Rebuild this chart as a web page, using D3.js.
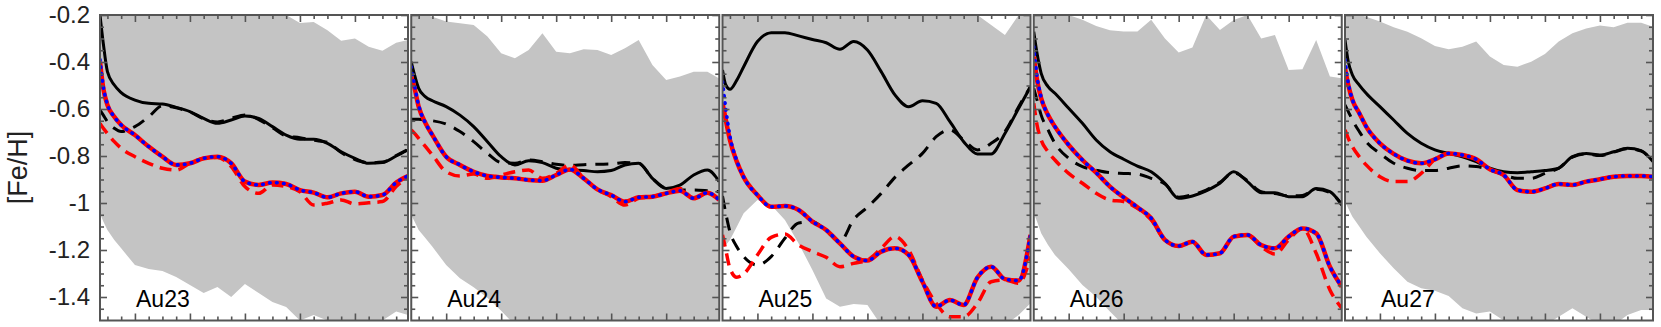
<!DOCTYPE html>
<html>
<head>
<meta charset="utf-8">
<script src="https://cdn.jsdelivr.net/npm/d3@7"></script>
<style>
  body { margin: 0; background: #fff; }
  svg { display: block; font-family: "Liberation Sans", Arial, Helvetica, sans-serif; }
</style>
</head>
<body>
<div id="chart"></div>
<script>
// halos, one panel each
var halos = ["Au23", "Au24", "Au25", "Au26", "Au27"];

// common x sampling of every curve (axis has no labels)
var xGrid = [-1.27, -1.15, -1, -0.75, -0.5, 0, 0.5, 1, 1.5, 2, 2.5, 3, 3.5, 4, 4.5, 5, 5.5, 6, 6.5, 7, 7.5, 8, 8.5, 9, 9.5, 9.93];

// tick positions / labels
var yMajor = [-1.4, -1.2, -1, -0.8, -0.6, -0.4, -0.2];
var yLabels = ["-1.4", "-1.2", "-1", "-0.8", "-0.6", "-0.4", "-0.2"];
var yMinor = [-1.45, -1.35, -1.3, -1.25, -1.15, -1.1, -1.05, -0.95, -0.9, -0.85, -0.75, -0.7, -0.65, -0.55, -0.5, -0.45, -0.35, -0.3, -0.25];
var xMajor = [0, 2, 4, 6, 8];
var xMinor = [-1, -0.5, 0.5, 1, 1.5, 2.5, 3, 3.5, 4.5, 5, 5.5, 6.5, 7, 7.5, 8.5, 9, 9.5];

// grey band, upper and lower edge
var bandHigh = [
  [-0.2,-0.2,-0.2,-0.2,-0.2,-0.2,-0.2,-0.2,-0.2,-0.2,-0.2,-0.2,-0.2,-0.2,-0.2,-0.2,-0.2,-0.234,-0.23,-0.265,-0.31,-0.3,-0.335,-0.352,-0.318,-0.306],
  [-0.2,-0.2,-0.2,-0.2,-0.207,-0.228,-0.235,-0.243,-0.292,-0.363,-0.384,-0.349,-0.278,-0.356,-0.363,-0.346,-0.349,-0.37,-0.342,-0.306,-0.413,-0.477,-0.462,-0.441,-0.441,-0.47],
  [-0.2,-0.2,-0.2,-0.2,-0.2,-0.2,-0.2,-0.2,-0.2,-0.2,-0.2,-0.2,-0.2,-0.2,-0.2,-0.2,-0.2,-0.2,-0.2,-0.2,-0.2,-0.2,-0.243,-0.285,-0.2,-0.2],
  [-0.2,-0.2,-0.2,-0.2,-0.2,-0.2,-0.22,-0.247,-0.265,-0.27,-0.27,-0.22,-0.3,-0.36,-0.338,-0.2,-0.264,-0.221,-0.2,-0.3,-0.285,-0.434,-0.431,-0.306,-0.462,-0.469],
  [-0.2,-0.2,-0.2,-0.2,-0.207,-0.228,-0.252,-0.271,-0.299,-0.332,-0.346,-0.335,-0.313,-0.377,-0.413,-0.42,-0.399,-0.366,-0.313,-0.278,-0.257,-0.245,-0.252,-0.233,-0.233,-0.25]
];
var bandLow = [
  [-1.044,-1.079,-1.115,-1.157,-1.193,-1.264,-1.281,-1.289,-1.315,-1.349,-1.383,-1.357,-1.4,-1.345,-1.383,-1.421,-1.443,-1.5,-1.477,-1.5,-1.52,-1.52,-1.52,-1.5,-1.462,-1.477],
  [-1.051,-1.079,-1.115,-1.15,-1.186,-1.264,-1.32,-1.359,-1.403,-1.458,-1.52,-1.52,-1.52,-1.52,-1.52,-1.52,-1.52,-1.52,-1.52,-1.52,-1.52,-1.52,-1.52,-1.52,-1.52,-1.52],
  [-1.179,-1.179,-1.157,-1.101,-1.044,-0.987,-1.009,-1.072,-1.172,-1.285,-1.406,-1.441,-1.43,-1.434,-1.52,-1.52,-1.52,-1.52,-1.52,-1.52,-1.52,-1.52,-1.52,-1.52,-1.477,-1.427],
  [-1.044,-1.079,-1.129,-1.179,-1.221,-1.282,-1.349,-1.399,-1.462,-1.52,-1.52,-1.52,-1.52,-1.52,-1.52,-1.52,-1.52,-1.52,-1.52,-1.52,-1.52,-1.52,-1.52,-1.52,-1.52,-1.52],
  [-0.994,-1.023,-1.058,-1.1,-1.143,-1.214,-1.278,-1.335,-1.363,-1.373,-1.396,-1.448,-1.47,-1.462,-1.5,-1.52,-1.52,-1.52,-1.484,-1.448,-1.484,-1.52,-1.52,-1.477,-1.455,-1.455]
];

// black solid
var blackSolid = [
  [-0.2,-0.321,-0.441,-0.498,-0.53,-0.562,-0.576,-0.579,-0.593,-0.611,-0.64,-0.661,-0.647,-0.63,-0.64,-0.675,-0.711,-0.729,-0.729,-0.746,-0.782,-0.81,-0.831,-0.828,-0.8,-0.774],
  [-0.399,-0.455,-0.512,-0.548,-0.565,-0.59,-0.626,-0.675,-0.739,-0.803,-0.838,-0.82,-0.828,-0.852,-0.86,-0.862,-0.867,-0.862,-0.838,-0.831,-0.895,-0.938,-0.924,-0.881,-0.86,-0.909],
  [-0.434,-0.498,-0.516,-0.477,-0.42,-0.313,-0.275,-0.275,-0.289,-0.304,-0.318,-0.346,-0.313,-0.349,-0.441,-0.54,-0.59,-0.565,-0.576,-0.654,-0.739,-0.791,-0.791,-0.704,-0.597,-0.505],
  [-0.271,-0.363,-0.448,-0.505,-0.533,-0.597,-0.661,-0.732,-0.782,-0.814,-0.843,-0.867,-0.916,-0.98,-0.97,-0.948,-0.916,-0.867,-0.909,-0.956,-0.956,-0.973,-0.973,-0.938,-0.952,-1.009],
  [-0.306,-0.399,-0.455,-0.498,-0.533,-0.59,-0.647,-0.704,-0.746,-0.774,-0.789,-0.803,-0.824,-0.852,-0.867,-0.871,-0.867,-0.862,-0.852,-0.803,-0.789,-0.796,-0.782,-0.767,-0.777,-0.824]
];

// black dashed
var blackDashed = [
  [-0.604,-0.626,-0.654,-0.682,-0.696,-0.675,-0.633,-0.587,-0.595,-0.613,-0.642,-0.655,-0.64,-0.625,-0.645,-0.68,-0.715,-0.722,-0.733,-0.742,-0.785,-0.815,-0.829,-0.826,-0.798,-0.772],
  [-0.644,-0.644,-0.644,-0.647,-0.65,-0.664,-0.696,-0.739,-0.789,-0.828,-0.831,-0.817,-0.824,-0.835,-0.84,-0.837,-0.835,-0.834,-0.828,-0.831,-0.895,-0.938,-0.945,-0.945,-0.948,-0.952],
  [-0.97,-1.044,-1.122,-1.186,-1.228,-1.264,-1.228,-1.15,-1.085,-1.08,-1.118,-1.165,-1.07,-1.018,-0.959,-0.891,-0.838,-0.789,-0.718,-0.689,-0.732,-0.774,-0.746,-0.696,-0.59,-0.505],
  [-0.512,-0.562,-0.626,-0.689,-0.746,-0.81,-0.845,-0.86,-0.871,-0.874,-0.877,-0.895,-0.919,-0.975,-0.965,-0.945,-0.912,-0.872,-0.905,-0.952,-0.96,-0.97,-0.968,-0.942,-0.956,-1.005],
  [-0.583,-0.611,-0.647,-0.696,-0.739,-0.789,-0.831,-0.852,-0.862,-0.862,-0.852,-0.842,-0.845,-0.859,-0.88,-0.895,-0.895,-0.874,-0.852,-0.805,-0.791,-0.798,-0.784,-0.769,-0.779,-0.826]
];

// red solid
var redSolid = [
  [-0.399,-0.512,-0.583,-0.633,-0.668,-0.711,-0.76,-0.803,-0.838,-0.831,-0.81,-0.803,-0.831,-0.909,-0.923,-0.913,-0.919,-0.945,-0.956,-0.976,-0.959,-0.952,-0.973,-0.966,-0.913,-0.885],
  [-0.462,-0.512,-0.59,-0.661,-0.711,-0.803,-0.838,-0.867,-0.885,-0.891,-0.895,-0.902,-0.905,-0.881,-0.857,-0.895,-0.942,-0.966,-0.994,-0.976,-0.973,-0.959,-0.948,-0.98,-0.956,-0.987],
  [-0.576,-0.647,-0.732,-0.824,-0.89,-0.966,-1.016,-1.013,-1.03,-1.079,-1.115,-1.172,-1.228,-1.245,-1.207,-1.193,-1.221,-1.335,-1.441,-1.413,-1.434,-1.317,-1.271,-1.324,-1.33,-1.136],
  [-0.377,-0.477,-0.555,-0.626,-0.675,-0.753,-0.817,-0.871,-0.93,-0.976,-1.018,-1.065,-1.157,-1.183,-1.165,-1.221,-1.214,-1.143,-1.136,-1.179,-1.193,-1.143,-1.108,-1.129,-1.271,-1.356],
  [-0.427,-0.498,-0.562,-0.618,-0.675,-0.746,-0.791,-0.82,-0.831,-0.814,-0.789,-0.796,-0.814,-0.857,-0.881,-0.945,-0.952,-0.938,-0.919,-0.923,-0.909,-0.899,-0.888,-0.885,-0.885,-0.888]
];

// red dashed
var redDashed = [
  [-0.661,-0.682,-0.704,-0.739,-0.767,-0.803,-0.831,-0.852,-0.86,-0.831,-0.81,-0.806,-0.845,-0.93,-0.959,-0.923,-0.93,-0.952,-1.009,-1.001,-0.987,-1.004,-0.999,-0.994,-0.93,-0.888],
  [-0.689,-0.704,-0.725,-0.76,-0.796,-0.867,-0.885,-0.877,-0.895,-0.881,-0.867,-0.86,-0.895,-0.874,-0.838,-0.895,-0.942,-0.973,-1.009,-0.98,-0.973,-0.956,-0.938,-0.98,-0.956,-0.987],
  [-1.136,-1.2,-1.278,-1.316,-1.302,-1.221,-1.146,-1.132,-1.179,-1.207,-1.231,-1.271,-1.257,-1.243,-1.193,-1.143,-1.2,-1.328,-1.427,-1.484,-1.484,-1.427,-1.335,-1.328,-1.342,-1.228],
  [-0.576,-0.668,-0.732,-0.782,-0.817,-0.874,-0.916,-0.959,-0.987,-0.994,-1.023,-1.072,-1.157,-1.183,-1.165,-1.221,-1.214,-1.143,-1.136,-1.186,-1.217,-1.157,-1.108,-1.214,-1.37,-1.448],
  [-0.689,-0.725,-0.76,-0.803,-0.838,-0.888,-0.909,-0.909,-0.874,-0.814,-0.789,-0.796,-0.814,-0.857,-0.881,-0.945,-0.952,-0.938,-0.919,-0.923,-0.909,-0.899,-0.888,-0.885,-0.885,-0.888]
];

// blue dotted
var blueDotted = [
  [-0.39,-0.505,-0.58,-0.633,-0.668,-0.711,-0.76,-0.803,-0.838,-0.831,-0.81,-0.803,-0.831,-0.909,-0.923,-0.913,-0.919,-0.945,-0.956,-0.976,-0.959,-0.952,-0.973,-0.966,-0.913,-0.885],
  [-0.42,-0.5,-0.585,-0.661,-0.711,-0.803,-0.838,-0.867,-0.885,-0.891,-0.895,-0.902,-0.905,-0.881,-0.857,-0.895,-0.942,-0.966,-0.994,-0.976,-0.973,-0.959,-0.948,-0.98,-0.956,-0.987],
  [-0.484,-0.6,-0.715,-0.82,-0.89,-0.966,-1.016,-1.013,-1.03,-1.079,-1.115,-1.172,-1.228,-1.245,-1.207,-1.193,-1.221,-1.335,-1.441,-1.413,-1.434,-1.317,-1.271,-1.324,-1.33,-1.136],
  [-0.335,-0.46,-0.55,-0.626,-0.675,-0.753,-0.817,-0.871,-0.93,-0.976,-1.018,-1.065,-1.157,-1.183,-1.165,-1.221,-1.214,-1.143,-1.136,-1.179,-1.193,-1.143,-1.108,-1.129,-1.271,-1.356],
  [-0.391,-0.49,-0.56,-0.618,-0.675,-0.746,-0.791,-0.82,-0.831,-0.814,-0.789,-0.796,-0.814,-0.857,-0.881,-0.945,-0.952,-0.938,-0.919,-0.923,-0.909,-0.899,-0.888,-0.885,-0.885,-0.888]
];

// layout
var width = 1661, height = 327;
var margin = {top: 15, left: 100};
var panelW = 308, panelH = 305.5, step = 311.25;
var frameColor = "#555";

var x = d3.scaleLinear().domain([-1.27, 9.93]).range([0, panelW]);
var y = d3.scaleLinear().domain([-1.5, -0.2]).range([panelH, 0]);

var svg = d3.select("#chart").append("svg")
    .attr("width", width)
    .attr("height", height);

var defs = svg.append("defs");
defs.append("clipPath").attr("id", "panelClip")
  .append("rect")
    .attr("width", panelW)
    .attr("height", panelH);

var line = d3.line()
    .x(function(d, i) { return x(xGrid[i]) })
    .y(function(d) { return y(d) })
    .curve(d3.curveMonotoneX);

var band = d3.area()
    .x(function(d, i) { return x(xGrid[i]) })
    .y0(function(d) { return y(d[0]) })
    .y1(function(d) { return y(d[1]) });

// line styles
var styles = [
  {data: blackSolid,  color: "#000", width: 3,   dash: null,    cap: "butt"},
  {data: blackDashed, color: "#000", width: 3,   dash: "13,9",  cap: "butt"},
  {data: redSolid,    color: "#f00", width: 4.5, dash: null,    cap: "butt"},
  {data: redDashed,   color: "#f00", width: 3.5, dash: "12,7",  cap: "butt"},
  {data: blueDotted,  color: "#00f", width: 3.6, dash: "0.6,6.4", cap: "round"}
];

halos.forEach(function(name, p) {
  var g = svg.append("g")
      .attr("transform", "translate(" + (margin.left + p * step) + "," + margin.top + ")");

  var plot = g.append("g").attr("clip-path", "url(#panelClip)");

  var bandData = bandLow[p].map(function(lo, i) { return [lo, bandHigh[p][i]] });
  plot.append("path")
      .attr("d", band(bandData))
      .attr("fill", "#c4c4c4");

  styles.forEach(function(s) {
    plot.append("path")
        .attr("d", line(s.data[p]))
        .attr("fill", "none")
        .attr("stroke", s.color)
        .attr("stroke-width", s.width)
        .attr("stroke-linecap", s.cap)
        .attr("stroke-dasharray", s.dash);
  });

  // inward ticks on all four sides
  var axes = [
    {ax: d3.axisLeft(y),   t: null},
    {ax: d3.axisRight(y),  t: "translate(" + panelW + ",0)"},
    {ax: d3.axisTop(x),    t: null},
    {ax: d3.axisBottom(x), t: "translate(0," + panelH + ")"}
  ];
  axes.forEach(function(a, k) {
    var vert = k < 2;
    [[vert ? yMinor : xMinor, -4], [vert ? yMajor : xMajor, -7]].forEach(function(set) {
      var ag = g.append("g")
          .attr("transform", a.t)
          .call(a.ax.tickValues(set[0]).tickSize(set[1]).tickFormat(""));
      ag.select(".domain").remove();
      ag.selectAll("line").attr("stroke", frameColor).attr("stroke-width", 1.6);
    });
  });

  // frame
  g.append("rect")
      .attr("width", panelW)
      .attr("height", panelH)
      .attr("fill", "none")
      .attr("stroke", frameColor)
      .attr("stroke-width", 2);

  g.append("text")
      .attr("x", 36)
      .attr("y", 292)
      .style("font-size", "23px")
      .style("fill", "#000")
      .text(name);

  if (p == 0) {
    var yl = g.append("g")
        .call(d3.axisLeft(y).tickValues(yMajor).tickSize(0).tickPadding(10)
          .tickFormat(function(d, i) { return yLabels[i] }));
    yl.select(".domain").remove();
    yl.selectAll("text")
        .style("font-size", "24px")
        .style("font-family", "'Liberation Sans', Arial, sans-serif")
        .style("fill", "#222");
  }
});

// y title
svg.append("text")
    .attr("transform", "translate(27," + (margin.top + 152.5) + ") rotate(-90)")
    .attr("text-anchor", "middle")
    .style("font-size", "27px")
    .style("fill", "#222")
    .text("[Fe/H]");
</script>
</body>
</html>
